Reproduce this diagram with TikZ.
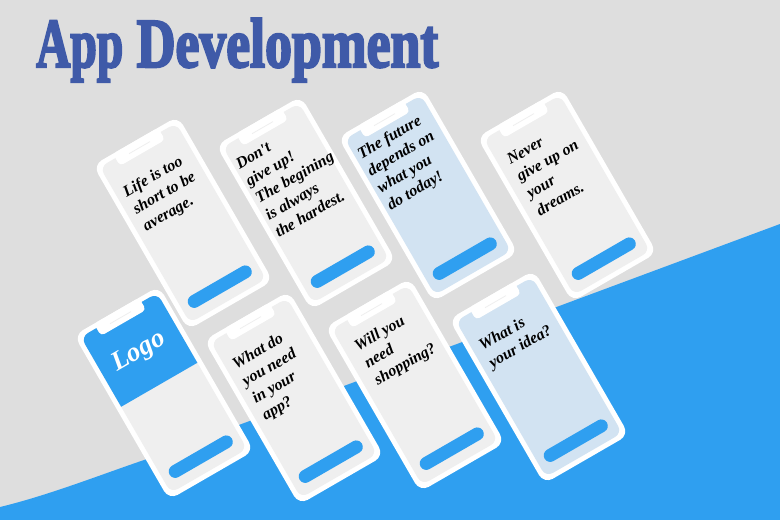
\documentclass[tikz,border=0pt]{standalone}
\usepackage{fontspec}
\setmainfont{Liberation Serif}
\newfontfamily\titlefont[FakeBold=3.5]{Liberation Serif Bold}
\newfontfamily\quotefont{Liberation Serif Bold Italic}

\definecolor{pagegrey}{HTML}{DEDEDE}
\definecolor{skyblue}{HTML}{2F9FF0}
\definecolor{inkblue}{HTML}{3F5AA8}
\definecolor{greyface}{HTML}{EFEFEF}
\definecolor{blueface}{HTML}{D2E3F2}

\tikzset{
    phoneframe/.style={fill=white, rounded corners=10pt},
    phoneface/.style={rounded corners=8pt},
    phonenotch/.style={fill=white, rounded corners=4pt},
    phonespeaker/.style={draw=greyface, line width=0.8pt},
    phonebutton/.style={fill=skyblue, rounded corners=6.5pt},
    phonetext/.style={anchor=north west, inner sep=0pt, rotate=30, align=left, text=black,
        font=\quotefont\fontsize{16}{19.7}\selectfont},
}

% centre x, centre y, face colour, extra drawing on the face
\newcommand{\phone}[4]{
    \begin{scope}[shift={(#1,#2)}, rotate=30]
        \fill[phoneframe] (-49,-95) rectangle (49,95);
        \fill[phoneface, fill=#3] (-44,-90) rectangle (44,90);
        #4
        \fill[phonenotch] (-26,-95) rectangle (26,-81);
        \draw[phonespeaker] (-12,-87) -- (12,-87);
        \fill[phonebutton] (-36,67) rectangle (36,80);
    \end{scope}
}

\begin{document}
\begin{tikzpicture}[x=1pt, y=-1pt]
    \useasboundingbox (0,0) rectangle (780,520);
    \fill[pagegrey] (0,0) rectangle (780,520);
    \fill[skyblue] (780,224) -- (150,458) .. controls (105,473) and (50,495) .. (0,507) -- (0,520) -- (780,520) -- cycle;

    \node[anchor=base west, inner sep=0pt, text=inkblue, font=\titlefont\fontsize{70}{70}\selectfont] (title) at (36,67)
        {\scalebox{0.678}[1]{App}\scalebox{0.768}[1]{ Development}};

    \phone{183}{223}{greyface}{}
    \phone{306}{203}{greyface}{}
    \phone{428}{195}{blueface}{}
    \phone{567}{195}{greyface}{}
    \phone{164}{393}{greyface}{
        \fill[skyblue] (-44,-9.5) [rounded corners=8pt] -- (-44,-90) -- (44,-90) [sharp corners] -- (44,-9.5) -- cycle;
    }
    \phone{294}{398}{greyface}{}
    \phone{415}{385}{greyface}{}
    \phone{539}{377}{blueface}{}

    \begin{scope}[shift={(183,223)}, rotate=30]
        \node[phonetext] (life) at (-36,-62) {Life is too\\short to be\\average.};
    \end{scope}
    \begin{scope}[shift={(306,203)}, rotate=30]
        \node[phonetext] (dont) at (-41,-73) {Don't\\give up!\\The begining\\is always\\the hardest.};
    \end{scope}
    \begin{scope}[shift={(428,195)}, rotate=30]
        \node[phonetext] (future) at (-40,-76) {The future\\depends on\\what you\\do today!};
    \end{scope}
    \begin{scope}[shift={(567,195)}, rotate=30]
        \node[phonetext] (never) at (-34,-65) {Never\\give up on\\your\\dreams.};
    \end{scope}
    \begin{scope}[shift={(164,393)}, rotate=30]
        \node[phonetext, anchor=center, text=white, font=\quotefont\fontsize{27}{27}\selectfont] (logo) at (-1,-48) {Logo};
    \end{scope}
    \begin{scope}[shift={(294,398)}, rotate=30]
        \node[phonetext] (need) at (-36,-65) {What do\\you need\\in your\\app?};
    \end{scope}
    \begin{scope}[shift={(415,385)}, rotate=30]
        \node[phonetext] (shopping) at (-32.5,-69) {Will you\\need\\shopping?};
    \end{scope}
    \begin{scope}[shift={(539,377)}, rotate=30]
        \node[phonetext] (idea) at (-36,-62) {What is\\your idea?};
    \end{scope}
\end{tikzpicture}
\end{document}
